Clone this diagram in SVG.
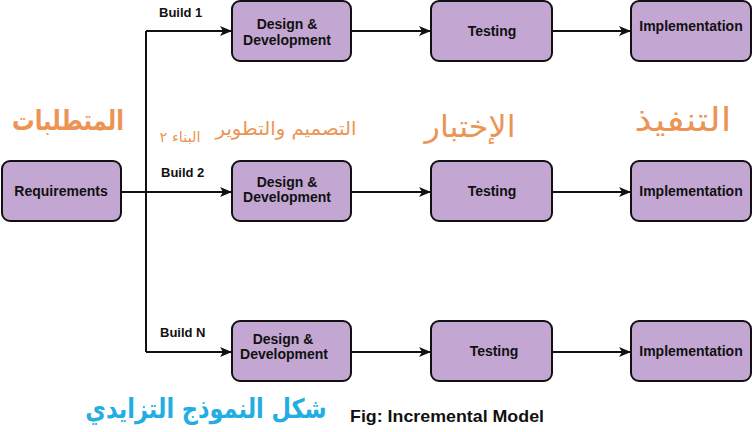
<svg xmlns="http://www.w3.org/2000/svg" width="752" height="432" viewBox="0 0 752 432">
<defs>
<style>
.box{fill:#c3a6d1;stroke:#111;stroke-width:2}
.lbl{font-family:"Liberation Sans",Arial,sans-serif;font-weight:bold;font-size:14px;fill:#111;text-anchor:middle}
.bld{font-family:"Liberation Sans",Arial,sans-serif;font-weight:bold;font-size:13px;fill:#111}
.conn{fill:none;stroke:#111;stroke-width:2}
.ar{font-family:"DejaVu Sans","Noto Sans",sans-serif;fill:#ec9455}
</style>
<marker id="arr" markerUnits="userSpaceOnUse" markerWidth="12" markerHeight="10" refX="11" refY="5" orient="auto">
<path d="M0,0 L12,5 L0,10 L3,5 Z" fill="#111"/>
</marker>
</defs>
<rect width="752" height="432" fill="#fff"/>
<g id="connectors">
<path class="conn" d="M121,192 H146"/>
<path class="conn" d="M146,31 V352"/>
<path class="conn" d="M146,31 H231" marker-end="url(#arr)"/>
<path class="conn" d="M146,192 H231" marker-end="url(#arr)"/>
<path class="conn" d="M146,352 H231" marker-end="url(#arr)"/>
<path class="conn" d="M351,31 H430" marker-end="url(#arr)"/>
<path class="conn" d="M552,31 H630" marker-end="url(#arr)"/>
<path class="conn" d="M351,192 H430" marker-end="url(#arr)"/>
<path class="conn" d="M552,192 H630" marker-end="url(#arr)"/>
<path class="conn" d="M351,352 H430" marker-end="url(#arr)"/>
<path class="conn" d="M552,352 H630" marker-end="url(#arr)"/>
</g>
<g id="build-labels">
<text class="bld" x="159" y="17">Build 1</text>
<text class="bld" x="161" y="177">Build 2</text>
<text class="bld" x="160" y="337">Build N</text>
</g>
<g id="requirements">
<rect class="box" x="2" y="161" width="119" height="60" rx="8"/>
<text class="lbl" x="61" y="196">Requirements</text>
</g>
<g id="design1">
<rect class="box" x="232" y="1" width="119" height="60" rx="8"/>
<text class="lbl" x="287" y="29">Design &amp;</text>
<text class="lbl" x="287" y="45">Development</text>
</g>
<g id="testing1">
<rect class="box" x="431" y="1" width="121" height="60" rx="8"/>
<text class="lbl" x="492" y="36" font-size="13">Testing</text>
</g>
<g id="impl1">
<rect class="box" x="631" y="1" width="120" height="60" rx="8"/>
<text class="lbl" x="691" y="31">Implementation</text>
</g>
<g id="design2">
<rect class="box" x="232" y="161" width="119" height="60" rx="8"/>
<text class="lbl" x="287" y="187">Design &amp;</text>
<text class="lbl" x="287" y="202">Development</text>
</g>
<g id="testing2">
<rect class="box" x="431" y="161" width="121" height="60" rx="8"/>
<text class="lbl" x="492" y="196" font-size="13">Testing</text>
</g>
<g id="impl2">
<rect class="box" x="631" y="161" width="120" height="60" rx="8"/>
<text class="lbl" x="691" y="196">Implementation</text>
</g>
<g id="designN">
<rect class="box" x="232" y="321" width="119" height="60" rx="8"/>
<text class="lbl" x="283" y="344">Design &amp;</text>
<text class="lbl" x="284" y="359">Development</text>
</g>
<g id="testingN">
<rect class="box" x="431" y="321" width="121" height="60" rx="8"/>
<text class="lbl" x="494" y="356" font-size="13">Testing</text>
</g>
<g id="implN">
<rect class="box" x="631" y="321" width="120" height="60" rx="8"/>
<text class="lbl" x="691" y="356">Implementation</text>
</g>
<g id="arabic-labels">
<text class="ar" x="68" y="130" font-size="28" font-weight="bold" text-anchor="middle" direction="rtl" textLength="112" lengthAdjust="spacingAndGlyphs">المتطلبات</text>
<text class="ar" x="180" y="142" font-size="14" text-anchor="middle" direction="rtl" textLength="41" lengthAdjust="spacingAndGlyphs">البناء ٢</text>
<text class="ar" x="286" y="135" font-size="19" text-anchor="middle" direction="rtl" textLength="141" lengthAdjust="spacingAndGlyphs">التصميم والتطوير</text>
<text class="ar" x="470" y="137" font-size="30" text-anchor="middle" direction="rtl" textLength="91" lengthAdjust="spacingAndGlyphs">الإختبار</text>
<text class="ar" x="683" y="131" font-size="33" text-anchor="middle" direction="rtl" textLength="97" lengthAdjust="spacingAndGlyphs">التنفيذ</text>
<text transform="translate(206,418) scale(0.83,1)" x="0" y="0" font-family="DejaVu Sans,'Noto Sans',sans-serif" font-size="27" font-weight="bold" fill="#22aee2" text-anchor="middle" direction="rtl">شكل النموذج التزايدي</text>
<text x="350" y="422" font-family="'Liberation Sans',Arial,sans-serif" font-size="17" font-weight="bold" fill="#111" textLength="194" lengthAdjust="spacingAndGlyphs">Fig: Incremental Model</text>
</g>
</svg>
